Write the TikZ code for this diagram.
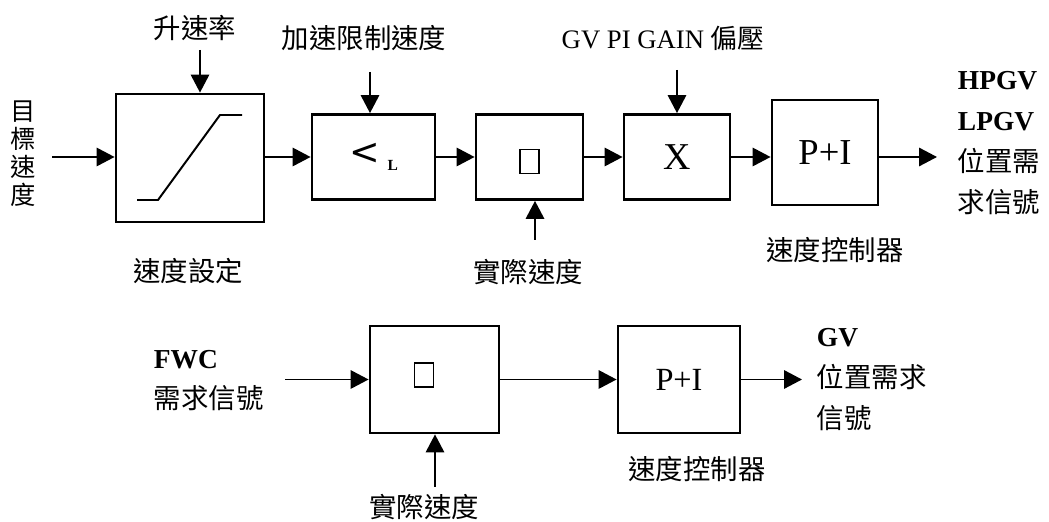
\documentclass[tikz,border=0pt]{standalone}
\usepackage{fontspec}
\setmainfont{Liberation Serif}
\newfontfamily\cjk{Noto Sans CJK TC}
\newfontfamily\symfont{DejaVu Sans}
\usetikzlibrary{arrows.meta,positioning}
\tikzset{
  every path/.style={line width=1.4pt},
  blk/.style={draw,line width=2pt,inner sep=0pt},
  sig/.style={-{Triangle[length=0.45cm,width=0.46cm]},line width=1.4pt},
  tofu/.style={draw,line width=0.9pt,minimum width=0.475cm,minimum height=0.6cm,inner sep=0pt},
  zhtext/.style={font=\cjk\fontsize{19.5}{29}\selectfont,inner sep=0pt},
  outtext/.style={font=\fontsize{19.5}{29}\selectfont,align=left,anchor=west,inner sep=0pt}
}

\begin{document}
\begin{tikzpicture}
  \useasboundingbox (0,0) rectangle (26.225,13.05);

  % upper loop
  \node[font=\cjk\fontsize{18}{19.9}\selectfont,align=center,inner sep=0pt] (goal) at (0.575,9.2) {目\\標\\速\\度};
  \coordinate (goalin) at (1.3,9.125);
  \node[blk,minimum width=3.7cm,minimum height=3.2cm] (ramp) at (4.75,9.1) {};
  \draw (3.425,8.05) -- (3.95,8.05) -- (5.5,10.175) -- (6.05,10.175);
  \node[blk,minimum width=3.075cm,minimum height=2.125cm] (lim) at (9.3375,9.125)
    {{\symfont\fontsize{26}{26}\selectfont <}\hspace{0.2cm}\raisebox{-0.14cm}{\fontsize{11}{11}\selectfont\bfseries L}};
  \node[blk,minimum width=2.675cm,minimum height=2.125cm] (err) at (13.2375,9.125) {};
  \node[tofu] (errbox) at (13.2375,9.0125) {};
  \node[blk,minimum width=2.65cm,minimum height=2.125cm,font=\fontsize{27}{27}\selectfont] (mul) at (16.925,9.125) {X};
  \node[blk,minimum width=2.65cm,minimum height=2.625cm,font=\fontsize{26}{26}\selectfont] (pi) at (20.625,9.2375) {P+I};
  \coordinate (piout) at (23.425,9.125);

  \draw[sig] (goalin) -- (goalin -| ramp.west);
  \draw[sig] (goalin -| ramp.east) -- (lim.west);
  \draw[sig] (lim.east) -- (err.west);
  \draw[sig] (err.east) -- (mul.west);
  \draw[sig] (mul.east) -- (mul.east -| pi.west);
  \draw[sig] (mul.east -| pi.east) -- (piout);

  \node[zhtext] (rate) at (4.875,12.35) {升速率};
  \coordinate (ratein) at (5.0,11.8);
  \draw[sig] (ratein) -- (ratein |- ramp.north);
  \node[zhtext] (limtxt) at (9.1,12.1) {加速限制速度};
  \coordinate (limin) at (9.25,11.25);
  \draw[sig] (limin) -- (limin |- lim.north);
  \node[zhtext,font=\fontsize{19}{29}\selectfont] (gain) at (16.575,12.1) {GV PI GAIN {\cjk 偏壓}};
  \coordinate (gainin) at (16.925,11.3);
  \draw[sig] (gainin) -- (mul.north);
  \coordinate (actin) at (13.375,7.05);
  \draw[sig] (actin) -- (actin |- err.south);

  \node[zhtext] (set) at (4.7,6.275) {速度設定};
  \node[zhtext] (act) at (13.2,6.25) {實際速度};
  \node[zhtext] (ctrl) at (20.875,6.8) {速度控制器};
  \node[outtext] (hpgv) at (23.925,9.475) {\textbf{HPGV}\\\textbf{LPGV}\\{\cjk 位置需}\\{\cjk 求信號}};

  % lower loop
  \node[outtext] (fwc) at (3.825,3.5375) {\textbf{FWC}\\{\cjk 需求信號}};
  \coordinate (fwcin) at (7.125,3.5625);
  \node[blk,minimum width=3.225cm,minimum height=2.675cm] (err2) at (10.8625,3.5625) {};
  \node[tofu] (errbox2) at (10.6,3.675) {};
  \node[blk,minimum width=3.05cm,minimum height=2.675cm,font=\fontsize{23}{23}\selectfont] (pi2) at (16.975,3.5625) {P+I};
  \coordinate (gvout) at (20.05,3.5625);

  \draw[sig] (fwcin) -- (err2.west);
  \draw[sig] (err2.east) -- (pi2.west);
  \draw[sig] (pi2.east) -- (gvout);
  \coordinate (act2in) at (10.875,0.875);
  \draw[sig] (act2in) -- (act2in |- err2.south);

  \node[zhtext] (act2) at (10.6,0.375) {實際速度};
  \node[zhtext] (ctrl2) at (17.425,1.325) {速度控制器};
  \node[outtext] (gv) at (20.4,3.5625) {\textbf{GV}\\{\cjk 位置需求}\\{\cjk 信號}};
\end{tikzpicture}
\end{document}
